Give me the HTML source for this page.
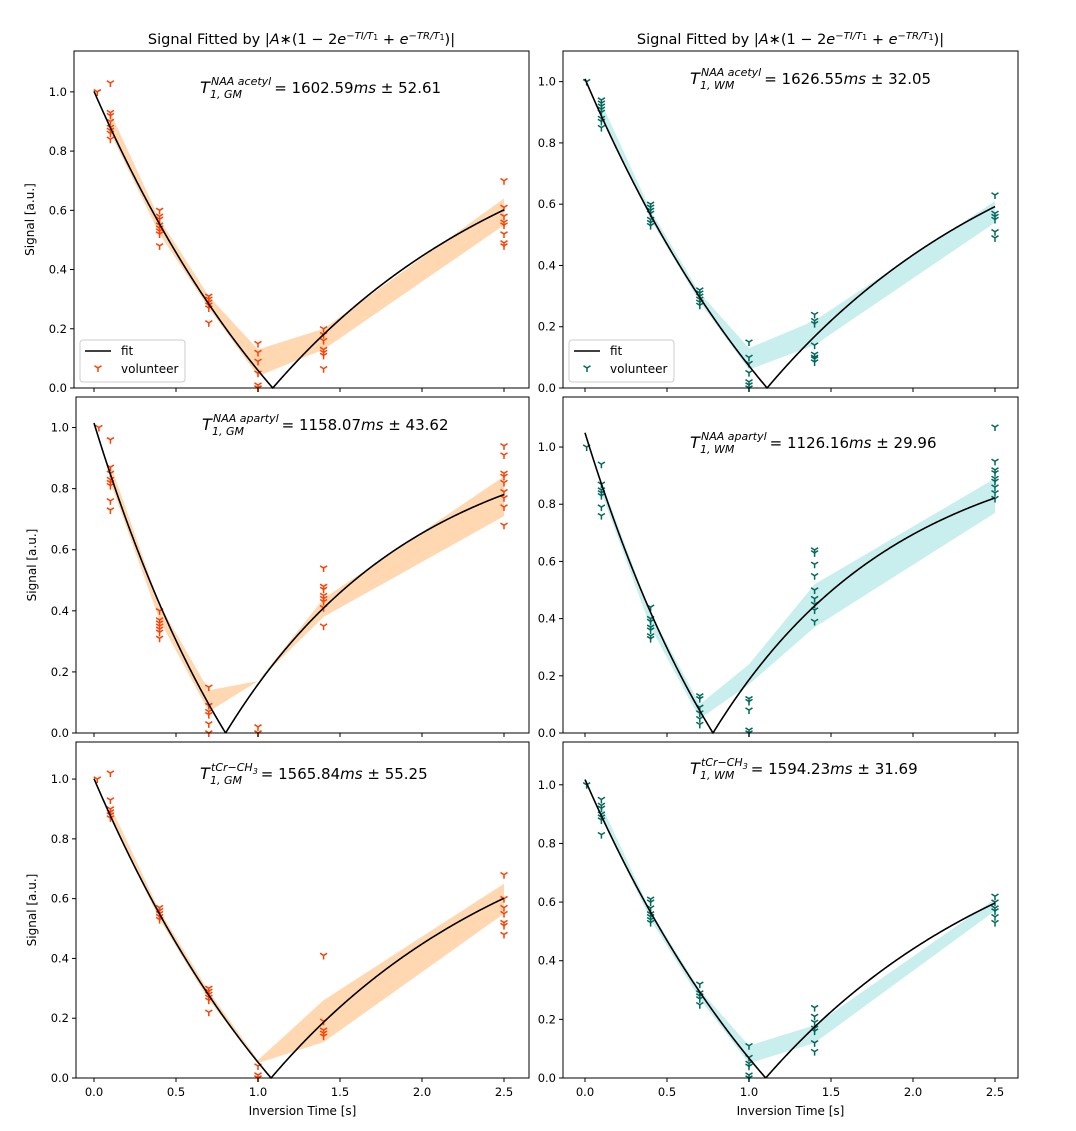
<!DOCTYPE html>
<html><head><meta charset="utf-8">
<style>
body{margin:0;background:#fff;width:1076px;height:1126px;overflow:hidden;font-family:"Liberation Sans","DejaVu Sans",sans-serif;}
svg text{font-family:"DejaVu Sans","Liberation Sans",sans-serif;}
</style></head>
<body>
<svg id="fig" width="1076" height="1126" xmlns="http://www.w3.org/2000/svg"></svg>
<script>
// ---- data ----
const bandTimes=[0.1,0.4,0.7,1.0,1.4,2.5];
const xTicks=[0.0,0.5,1.0,1.5,2.0,2.5];
const xTickLabels=["0.0","0.5","1.0","1.5","2.0","2.5"];
const yTicks=[0.0,0.2,0.4,0.6,0.8,1.0];
const yTickLabels=["0.0","0.2","0.4","0.6","0.8","1.0"];
const fitA=[1.015,1.02,1.015,1.05,1.005,1.02];
const fitT1=[1.60259,1.62655,1.15807,1.12616,1.56584,1.59423];
const fitTR=[6.96,7.4,10,10,8.8,10];
const bandLow=[[0.86,0.52,0.27,0.04,0.13,0.55],[0.89,0.55,0.28,0.06,0.14,0.54],[0.82,0.37,0.07,0.17,0.38,0.71],[0.84,0.37,0.05,0.17,0.37,0.77],[0.87,0.53,0.26,0.05,0.12,0.55],[0.89,0.54,0.27,0.05,0.12,0.57]];
const bandHigh=[[0.93,0.57,0.31,0.13,0.20,0.64],[0.93,0.58,0.31,0.13,0.22,0.61],[0.88,0.42,0.14,0.17,0.44,0.84],[0.88,0.42,0.10,0.24,0.52,0.89],[0.91,0.56,0.29,0.06,0.26,0.65],[0.93,0.57,0.30,0.11,0.18,0.61]];
const ptTimes=[
 [0.02,0.02,0.1,0.1,0.1,0.1,0.1,0.1,0.1,0.1,0.4,0.4,0.4,0.4,0.4,0.4,0.4,0.4,0.7,0.7,0.7,0.7,0.7,0.7,1,1,1,1,1,1,1,1.4,1.4,1.4,1.4,1.4,1.4,1.4,2.5,2.5,2.5,2.5,2.5,2.5,2.5,2.5],
 [0.01,0.1,0.1,0.1,0.1,0.1,0.1,0.1,0.1,0.4,0.4,0.4,0.4,0.4,0.4,0.4,0.7,0.7,0.7,0.7,0.7,0.7,1,1,1,1,1,1,1,1.4,1.4,1.4,1.4,1.4,1.4,1.4,1.4,2.5,2.5,2.5,2.5,2.5,2.5],
 [0.03,0.1,0.1,0.1,0.1,0.1,0.1,0.1,0.1,0.4,0.4,0.4,0.4,0.4,0.4,0.4,0.7,0.7,0.7,0.7,0.7,0.7,1,1,1,1.4,1.4,1.4,1.4,1.4,1.4,1.4,1.4,2.5,2.5,2.5,2.5,2.5,2.5,2.5,2.5,2.5],
 [0.01,0.1,0.1,0.1,0.1,0.1,0.1,0.1,0.4,0.4,0.4,0.4,0.4,0.4,0.4,0.7,0.7,0.7,0.7,0.7,0.7,1,1,1,1,1,1.4,1.4,1.4,1.4,1.4,1.4,1.4,1.4,1.4,2.5,2.5,2.5,2.5,2.5,2.5,2.5,2.5,2.5],
 [0.02,0.1,0.1,0.1,0.1,0.1,0.1,0.4,0.4,0.4,0.4,0.4,0.7,0.7,0.7,0.7,0.7,0.7,1,1,1,1,1.4,1.4,1.4,1.4,1.4,2.5,2.5,2.5,2.5,2.5,2.5,2.5],
 [0.01,0.1,0.1,0.1,0.1,0.1,0.1,0.1,0.4,0.4,0.4,0.4,0.4,0.4,0.4,0.7,0.7,0.7,0.7,0.7,1,1,1,1,1,1,1.4,1.4,1.4,1.4,1.4,1.4,1.4,2.5,2.5,2.5,2.5,2.5,2.5]];
const ptValues=[
 [1.0,1.0,1.03,0.93,0.92,0.90,0.88,0.87,0.86,0.84,0.60,0.58,0.57,0.55,0.54,0.53,0.52,0.48,0.31,0.30,0.29,0.28,0.27,0.22,0.15,0.12,0.09,0.05,0.01,0.0,0.0,0.20,0.18,0.16,0.13,0.12,0.11,0.065,0.70,0.61,0.58,0.56,0.55,0.52,0.49,0.48],
 [1.0,0.94,0.93,0.92,0.91,0.90,0.88,0.87,0.85,0.60,0.59,0.58,0.57,0.55,0.54,0.53,0.32,0.31,0.30,0.29,0.28,0.27,0.15,0.10,0.08,0.05,0.02,0.01,0.0,0.24,0.22,0.21,0.14,0.11,0.10,0.095,0.085,0.63,0.57,0.56,0.55,0.51,0.49],
 [1.0,0.96,0.87,0.85,0.83,0.82,0.81,0.76,0.73,0.40,0.37,0.36,0.35,0.34,0.33,0.31,0.15,0.09,0.07,0.06,0.03,0.0,0.02,0.0,0.0,0.54,0.48,0.47,0.45,0.44,0.43,0.41,0.35,0.94,0.91,0.85,0.84,0.82,0.79,0.77,0.74,0.68],
 [1.0,0.94,0.87,0.85,0.84,0.83,0.79,0.76,0.44,0.40,0.39,0.37,0.36,0.34,0.33,0.13,0.12,0.09,0.07,0.05,0.03,0.12,0.11,0.08,0.01,0.0,0.64,0.63,0.59,0.55,0.50,0.47,0.45,0.43,0.39,1.07,0.95,0.92,0.91,0.89,0.88,0.86,0.84,0.82],
 [1.0,1.02,0.93,0.90,0.89,0.88,0.87,0.57,0.56,0.55,0.54,0.53,0.30,0.29,0.28,0.27,0.26,0.22,0.04,0.01,0.0,0.0,0.41,0.19,0.16,0.15,0.14,0.68,0.60,0.57,0.55,0.52,0.51,0.48],
 [1.0,0.95,0.93,0.92,0.90,0.89,0.88,0.83,0.61,0.60,0.58,0.56,0.55,0.54,0.53,0.32,0.29,0.28,0.27,0.25,0.11,0.07,0.05,0.04,0.01,0.0,0.24,0.21,0.19,0.17,0.16,0.12,0.09,0.62,0.60,0.58,0.57,0.55,0.53]];
const labelMet=["NAA acetyl","NAA acetyl","NAA apartyl","NAA apartyl","tCr−CH","tCr−CH"];
const labelTissue=["GM","WM","GM","WM","GM","WM"];
const labelVal=["1602.59","1626.55","1158.07","1126.16","1565.84","1594.23"];
const labelErr=["52.61","32.05","43.62","29.96","55.25","31.69"];
// ---- layout ----
const panels=[
 {l:74,r:529,t:51,b:388,x0:94,ymax:1.138,col:0,row:0,lx:200,ly:87},
 {l:563,r:1018,t:51,b:388,x0:585,ymax:1.10,col:1,row:0,lx:690,ly:78},
 {l:76,r:529,t:397,b:733,x0:94,ymax:1.10,col:0,row:1,lx:202,ly:424},
 {l:563,r:1018,t:397,b:733,x0:585,ymax:1.175,col:1,row:1,lx:690,ly:442},
 {l:76,r:529,t:742,b:1078,x0:94,ymax:1.124,col:0,row:2,lx:200,ly:773},
 {l:563,r:1018,t:742,b:1078,x0:585,ymax:1.146,col:1,row:2,lx:690,ly:768}];
const NS="http://www.w3.org/2000/svg";
const svg=document.getElementById('fig');
function mk(tag,attrs,parent){const e=document.createElementNS(NS,tag);for(const k in attrs)e.setAttribute(k,attrs[k]);(parent||svg).appendChild(e);return e;}
const colors=[{pt:"#ff4000",band:"#ffd8b1"},{pt:"#00695c",band:"#c8eeee"}];
panels.forEach((p,i)=>{
 const c=colors[p.col];
 const xs=v=>p.x0+v*164;
 const ys=v=>p.b-(v/p.ymax)*(p.b-p.t);
 const g=mk('g',{});
 
 
 let d='';
 bandTimes.forEach((t,j)=>{d+=(j?'L':'M')+xs(t)+','+ys(bandHigh[i][j]);});
 for(let j=bandTimes.length-1;j>=0;j--)d+='L'+xs(bandTimes[j])+','+ys(bandLow[i][j]);
 const band=mk('path',{d:d+'Z',fill:c.band},g);
 
 
 ptTimes[i].forEach((t,j)=>{
  const x=xs(t),y=ys(ptValues[i][j]);
  const m=mk('path',{d:`M${x},${y}L${x},${y+4}M${x},${y}L${x-3.5},${y-2.2}M${x},${y}L${x+3.5},${y-2.2}`,stroke:c.pt,'stroke-width':1.5,fill:'none'},g);
  
  
 });
 let fd='';
 for(let k=0;k<=500;k++){const t=2.5*k/500;const v=Math.abs(fitA[i]*(1-2*Math.exp(-t/fitT1[i])+Math.exp(-fitTR[i]/fitT1[i])));fd+=(k?'L':'M')+xs(t).toFixed(2)+','+ys(v).toFixed(2);}
 const fl=mk('path',{d:fd,stroke:'#000','stroke-width':1.6,fill:'none'},g);
 
 
 const fr=mk('rect',{x:p.l,y:p.t,width:p.r-p.l,height:p.b-p.t,fill:'none',stroke:'#000','stroke-width':1},g);
 
 
 yTicks.forEach((v,j)=>{const y=ys(v);mk('line',{x1:p.l-4,x2:p.l,y1:y,y2:y,stroke:'#000'},g);
  const tl=mk('text',{x:p.l-7,y:y+4,'text-anchor':'end','font-size':11.5},g);tl.textContent=yTickLabels[j];
  
  });
 xTicks.forEach((v,j)=>{const x=xs(v);mk('line',{x1:x,x2:x,y1:p.b,y2:p.b+4,stroke:'#000'},g);
  if(p.row===2){const tl=mk('text',{x:x,y:p.b+18,'text-anchor':'middle','font-size':11.5},g);tl.textContent=xTickLabels[j];
   
   }});
 if(p.col===0){const yl=mk('text',{x:0,y:0,transform:`translate(${p.l-40},${(p.t+p.b)/2}) rotate(-90)`,'text-anchor':'middle','font-size':12},g);yl.textContent='Signal [a.u.]';
  
  }
 if(p.row===2){const xl=mk('text',{x:(p.l+p.r)/2,y:p.b+37,'text-anchor':'middle','font-size':12},g);xl.textContent='Inversion Time [s]';
  
  }
 if(p.row===0){
  const tt=mk('text',{x:(p.l+p.r)/2,y:p.t-7,'text-anchor':'middle','font-size':14.5},g);
  
  
  tt.innerHTML='Signal Fitted by |<tspan font-style="italic">A</tspan>∗(1 − 2<tspan font-style="italic">e</tspan><tspan baseline-shift="super" font-size="10" font-style="italic">−TI/T</tspan><tspan baseline-shift="super" font-size="8">1</tspan> + <tspan font-style="italic">e</tspan><tspan baseline-shift="super" font-size="10" font-style="italic">−TR/T</tspan><tspan baseline-shift="super" font-size="8">1</tspan>)|';
  const lg=mk('g',{},g);
  
  
  mk('rect',{x:p.l+6,y:p.b-48,width:105,height:42,rx:3,fill:'#fff',stroke:'#ccc'},lg);
  mk('line',{x1:p.l+11,x2:p.l+37,y1:p.b-37,y2:p.b-37,stroke:'#000','stroke-width':1.6},lg);
  const lx=p.l+24,ly=p.b-20;
  mk('path',{d:`M${lx},${ly}L${lx},${ly+4}M${lx},${ly}L${lx-3.5},${ly-2.2}M${lx},${ly}L${lx+3.5},${ly-2.2}`,stroke:c.pt,'stroke-width':1.5,fill:'none'},lg);
  const t1=mk('text',{x:p.l+47,y:p.b-33,'font-size':12},lg);t1.textContent='fit';
  const t2=mk('text',{x:p.l+47,y:p.b-15,'font-size':12},lg);t2.textContent='volunteer';
 }
 // annotation
 const ag=mk('g',{},g);
 
 
 const bx=p.lx, by=p.ly+6;
 const tT=mk('text',{x:bx,y:by,'font-size':16,'font-style':'italic'},ag);tT.textContent='T';
 const sx=bx+11;
 const sp=mk('text',{x:sx,y:by-8,'font-size':11,'font-style':'italic'},ag);
 if(labelMet[i].startsWith('tCr')){sp.innerHTML='tCr−CH<tspan font-size="8" dy="3">3</tspan>';}else{sp.textContent=labelMet[i];}
 const sb=mk('text',{x:sx-1,y:by+5,'font-size':11,'font-style':'italic'},ag);sb.textContent='1, '+labelTissue[i];
 const w=Math.max(sp.getComputedTextLength(),sb.getComputedTextLength());
 const mt=mk('text',{x:sx+w+3,y:by,'font-size':15},ag);
 mt.innerHTML='= '+labelVal[i]+'<tspan font-style="italic">ms</tspan> ± '+labelErr[i];
});
</script>
</body></html>
